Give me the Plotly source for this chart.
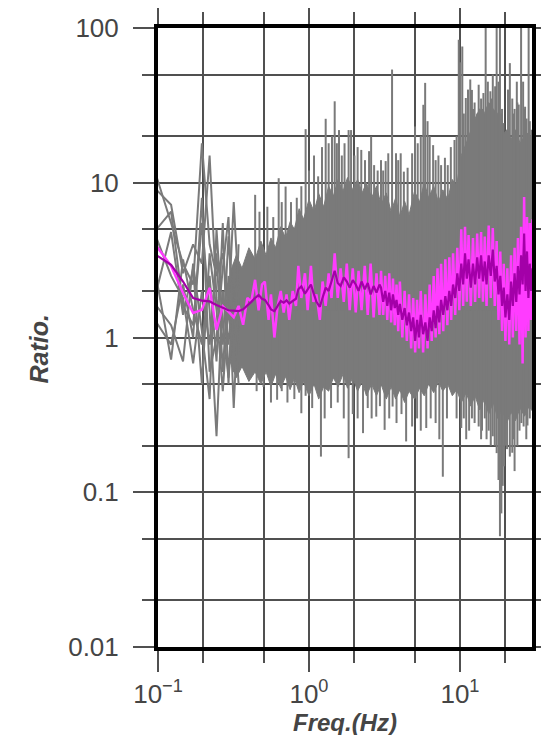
import plotly.graph_objects as go

# ---------------- data ----------------
# low-frequency FFT bins where individual station curves are distinguishable
F_BINS = [0.0977, 0.1221, 0.1465, 0.1709, 0.1953, 0.2197, 0.2441, 0.2686, 0.2930, 0.3174, 0.3418]
GRAY_1 = [11.0, 5.5, 3.0, 2.2, 18.0, 4.0, 2.5, 3.5, 1.5, 7.5, 2.0]
GRAY_2 = [9.0, 7.2, 2.6, 4.0, 3.0, 15.0, 1.8, 0.9, 4.5, 1.3, 3.0]
GRAY_3 = [5.0, 6.5, 1.6, 1.2, 5.5, 1.5, 0.23, 2.0, 0.9, 2.5, 1.1]
GRAY_4 = [4.4, 2.5, 1.8, 0.68, 2.0, 0.9, 3.5, 0.6, 2.5, 0.35, 1.8]
GRAY_5 = [2.4, 0.72, 3.2, 1.5, 0.9, 2.5, 0.7, 5.5, 0.5, 3.0, 0.8]
GRAY_6 = [2.0, 4.8, 1.4, 2.8, 0.5, 3.5, 1.5, 0.45, 1.6, 0.6, 4.0]
GRAY_7 = [1.6, 1.2, 0.7, 3.0, 1.1, 0.4, 5.0, 1.2, 0.55, 1.7, 0.5]
GRAY_8 = [1.25, 0.9, 2.2, 1.0, 8.0, 0.6, 1.0, 2.8, 6.0, 0.8, 1.4]
GRAY_LINES = [GRAY_1, GRAY_2, GRAY_3, GRAY_4, GRAY_5, GRAY_6, GRAY_7, GRAY_8]

# dense cloud of station curves: solid core envelope
CORE_F = [0.3, 0.33, 0.36, 0.4, 0.44, 0.48, 0.52, 0.56, 0.6, 0.65, 0.7, 0.75, 0.8, 0.86, 0.92,
          1.0, 1.08, 1.16, 1.25, 1.35, 1.45, 1.56, 1.68, 1.8, 1.95, 2.1, 2.25, 2.4, 2.6, 2.8,
          3.0, 3.25, 3.5, 3.75, 4.0, 4.3, 4.6, 5.0, 5.4, 5.8, 6.2, 6.7, 7.2, 7.7, 8.3, 8.9,
          9.5, 10.2, 11.0, 11.8, 12.6, 13.5, 14.5, 15.5, 16.6, 17.8, 19.0, 20.4, 21.8, 23.3,
          25.0, 26.8, 28.7, 30.5]
CORE_HI = [2.6, 3.4, 2.8, 3.8, 3.2, 4.2, 3.4, 4.4, 3.8, 5.2, 4.4, 5.6, 5.0, 6.8, 5.8,
           7.8, 6.5, 8.5, 7.0, 9.5, 8.2, 10.5, 8.8, 10.8, 9.0, 10.5, 8.6, 10.0, 8.0, 9.5,
           7.2, 8.6, 6.5, 8.0, 6.0, 7.6, 6.2, 8.8, 7.5, 10.0, 8.0, 9.5, 7.5, 9.0, 7.8, 10.5,
           9.5, 15.0, 18.0, 22.0, 26.0, 30.0, 28.0, 33.0, 30.0, 28.0, 20.0, 22.0, 19.0, 22.0,
           18.0, 20.0, 17.0, 18.0]
CORE_LO = [0.7, 0.55, 0.65, 0.52, 0.6, 0.5, 0.6, 0.48, 0.58, 0.47, 0.56, 0.46, 0.55, 0.44, 0.52,
           0.42, 0.5, 0.4, 0.48, 0.45, 0.55, 0.48, 0.58, 0.47, 0.55, 0.45, 0.52, 0.42, 0.5, 0.42,
           0.5, 0.4, 0.48, 0.4, 0.46, 0.38, 0.45, 0.4, 0.47, 0.42, 0.5, 0.44, 0.52, 0.45, 0.5, 0.42,
           0.46, 0.38, 0.44, 0.36, 0.42, 0.34, 0.4, 0.32, 0.38, 0.3, 0.34, 0.28, 0.33, 0.29,
           0.35, 0.31, 0.36, 0.33]

# upward peaks of individual curves
SPIKE_UP_F = [0.44, 0.47, 0.53, 0.58, 0.63, 0.66, 0.70, 0.76, 0.83, 0.89, 0.95, 1.0, 1.08, 1.15,
              1.22, 1.29, 1.35, 1.42, 1.48, 1.53, 1.58, 1.65, 1.72, 1.83, 1.9, 2.0, 2.1, 2.22,
              2.35, 2.5, 2.58, 2.7, 2.85, 3.0, 3.1, 3.22, 3.35, 3.55, 3.77, 3.9, 4.05, 4.25, 4.5,
              4.82, 5.04, 5.25, 5.5, 5.72, 5.88, 6.1, 6.3, 6.64, 6.9, 7.2, 7.5, 7.95, 8.3, 8.7,
              9.2, 9.5, 9.82, 10.05, 10.36, 10.93, 11.3, 11.7, 12.0, 12.5, 13.3, 13.8, 14.3, 14.8,
              15.3, 15.9, 16.5, 17.1, 17.5, 18.0, 18.4, 19.0, 19.4, 20.8, 21.4, 22.2, 23.0, 23.8,
              24.5, 25.4, 26.2, 27.0, 28.1, 28.5, 29.0, 29.8,
              10.6, 12.2, 13.0, 14.0, 15.6, 16.2, 18.8, 21.0, 22.6, 24.0, 26.6, 27.6, 29.4]
SPIKE_UP_V = [8.35, 6.5, 7.0, 6.0, 10.7, 7.5, 9.45, 7.5, 8.0, 9.5, 22.2, 12.0, 15.0, 11.0,
              17.0, 25.9, 18.0, 20.0, 33.6, 18.0, 21.9, 15.0, 18.0, 21.9, 21.9, 15.0, 17.0, 16.3,
              14.0, 16.0, 19.9, 13.0, 12.0, 14.0, 12.0, 13.8, 15.5, 53.9, 15.5, 14.0, 15.5, 11.8, 12.5,
              15.5, 23.1, 18.0, 20.0, 31.9, 44.2, 25.0, 20.0, 17.5, 14.0, 15.0, 13.0, 14.5, 13.0, 17.0,
              18.9, 20.0, 84.0, 60.0, 76.0, 35.3, 40.0, 46.5, 39.8, 33.0, 43.0, 35.0, 38.0, 100.0,
              45.0, 39.0, 50.0, 42.0, 100.0, 45.0, 100.0, 30.0, 24.3, 40.0, 59.3, 35.0, 30.0, 45.0,
              32.0, 100.0, 45.0, 31.0, 21.0, 100.0, 25.0, 22.0,
              28.0, 30.0, 28.0, 30.0, 32.0, 35.0, 28.0, 30.0, 28.0, 33.0, 30.0, 26.0, 20.0]

# downward troughs of individual curves
SPIKE_DN_F = [0.45, 0.5, 0.56, 0.615, 0.66, 0.72, 0.8, 0.89, 0.95, 1.05, 1.2, 1.27, 1.4, 1.55,
              1.7, 1.83, 1.95, 2.1, 2.28, 2.45, 2.6, 2.79, 2.95, 3.17, 3.4, 3.58, 3.8, 4.1, 4.4,
              4.82, 5.2, 5.5, 5.98, 6.4, 6.9, 7.3, 7.7, 8.2, 9.5, 10.2, 11.0, 12.0, 13.3, 14.0,
              15.0, 16.0, 17.0, 17.5, 18.0, 18.4, 18.8, 19.2, 19.6, 20.5, 21.4, 22.2, 23.0, 24.0,
              24.8, 26.4, 27.5, 29.0,
              10.6, 11.5, 12.5, 13.8, 14.6, 15.5, 16.5, 20.0, 22.6, 25.5, 28.0]
SPIKE_DN_V = [0.45, 0.48, 0.38, 0.396, 0.45, 0.38, 0.4, 0.324, 0.42, 0.35, 0.17, 0.3, 0.35, 0.38,
              0.3, 0.166, 0.32, 0.3, 0.241, 0.35, 0.3, 0.308, 0.36, 0.253, 0.3, 0.358, 0.28, 0.32, 0.213,
              0.266, 0.3, 0.25, 0.26, 0.3, 0.28, 0.22, 0.126, 0.3, 0.3, 0.26, 0.22, 0.3, 0.266, 0.25,
              0.22, 0.2, 0.2, 0.179, 0.12, 0.052, 0.073, 0.11, 0.147, 0.19, 0.17, 0.18, 0.137, 0.2,
              0.25, 0.266, 0.22, 0.3,
              0.3, 0.25, 0.28, 0.22, 0.3, 0.25, 0.23, 0.2, 0.22, 0.28, 0.27]

# average curves
MEAN_F_LOW = [0.0977, 0.1221, 0.1465, 0.1709, 0.1953, 0.2197, 0.2441, 0.2686, 0.2930, 0.3174,
              0.3418, 0.3662, 0.3906, 0.4150, 0.4395, 0.4639, 0.4883]
MEAN_F_MID = [0.51, 0.54, 0.56, 0.59, 0.62, 0.65, 0.68, 0.71, 0.74, 0.78, 0.82, 0.85, 0.89, 0.94,
              0.98, 1.03, 1.07, 1.12, 1.18, 1.23, 1.29, 1.35, 1.41, 1.48, 1.55, 1.62, 1.70, 1.78,
              1.86, 1.95, 2.04, 2.13, 2.23, 2.34, 2.45, 2.56, 2.68, 2.80, 2.93]
MEAN_F_HIGH = [3.0, 3.1, 3.2, 3.3, 3.4, 3.5, 3.6, 3.7, 3.8, 3.9, 4.0, 4.15, 4.3, 4.45, 4.6, 4.75,
               4.9, 5.05, 5.2, 5.35, 5.5, 5.7, 5.9, 6.1, 6.3, 6.5, 6.7, 6.9, 7.1, 7.3, 7.5, 7.75,
               8.0, 8.25, 8.5, 8.75, 9.0, 9.3, 9.6, 9.9, 10.2, 10.5, 10.8, 11.1, 11.4, 11.8, 12.2,
               12.6, 13.0, 13.4, 13.8, 14.2, 14.6, 15.0, 15.5, 16.0, 16.5, 17.0, 17.5, 18.0, 18.5,
               19.0, 19.5, 20.0, 20.6, 21.2, 21.8, 22.4, 23.0, 23.6, 24.2, 24.8, 25.4, 26.0, 26.6,
               27.2, 27.8, 28.4, 29.0, 29.6, 30.2]

PINK_LOW = [3.9, 2.9, 1.94, 1.44, 1.51, 2.09, 1.12, 1.59, 1.47, 1.35, 1.6, 1.21, 1.8, 1.71, 2.36,
            1.5, 2.2]
PINK_MID = [2.3, 1.3, 1.9, 1.0, 1.6, 2.0, 1.45, 1.9, 1.3, 2.0, 1.6, 2.9, 1.8, 2.6, 1.5, 2.9, 1.7,
            1.9, 1.3, 2.3, 1.6, 2.6, 1.8, 3.5, 1.8, 2.8, 1.7, 3.0, 1.5, 2.8, 1.45, 2.7, 1.5, 2.9,
            1.4, 3.0, 1.35, 2.6, 1.4]
PINK_HIGH = [2.7, 1.4, 2.5, 1.3, 2.6, 1.25, 2.4, 1.2, 2.2, 1.1, 2.3, 1.0, 2.0, 0.95, 1.9, 0.85,
             1.8, 0.8, 1.75, 0.85, 2.0, 0.8, 1.9, 0.85, 2.2, 0.95, 2.5, 1.0, 2.8, 1.05, 3.0, 1.1,
             3.2, 1.2, 3.3, 1.3, 3.5, 1.4, 3.8, 1.5, 5.0, 1.6, 5.2, 1.7, 4.6, 1.6, 4.4, 1.7, 4.7,
             1.8, 4.8, 1.7, 4.5, 1.6, 5.3, 1.8, 5.1, 1.6, 4.2, 1.3, 3.6, 1.1, 3.0, 0.95, 2.8, 0.9,
             3.4, 1.0, 3.8, 1.1, 4.4, 0.9, 5.2, 0.68, 8.1, 1.0, 6.0, 1.1, 5.5, 1.3, 5.8]

MAG_LOW = [3.4, 2.95, 2.3, 1.8, 1.73, 1.71, 1.62, 1.55, 1.5, 1.49, 1.48, 1.52, 1.6, 1.7, 1.8,
           1.88, 1.78]
MAG_MID = [1.75, 1.62, 1.52, 1.48, 1.6, 1.72, 1.68, 1.74, 1.66, 1.72, 1.78, 2.05, 2.14, 1.92,
           2.05, 2.2, 1.95, 1.7, 1.58, 1.8, 2.1, 2.0, 2.3, 2.7, 2.25, 2.15, 2.45, 2.3, 2.1, 2.35,
           2.2, 2.0, 2.3, 2.05, 2.25, 1.9, 2.15, 1.95, 2.2]
MAG_HIGH = [2.1, 1.7, 2.0, 1.6, 1.95, 1.5, 1.9, 1.55, 1.75, 1.4, 1.65, 1.3, 1.55, 1.2, 1.45, 1.1,
            1.35, 0.95, 1.3, 1.0, 1.4, 1.05, 1.25, 0.95, 1.35, 1.1, 1.5, 1.15, 1.6, 1.25, 1.75, 1.4,
            1.85, 1.5, 2.0, 1.6, 2.2, 1.8, 2.6, 2.0, 3.0, 2.2, 3.5, 2.4, 3.2, 2.1, 3.0, 2.2, 3.3,
            2.4, 3.4, 2.3, 3.1, 2.2, 3.4, 2.5, 3.7, 2.3, 2.9, 1.9, 2.5, 1.6, 2.1, 1.35, 1.9, 1.3,
            2.3, 1.6, 2.6, 1.7, 2.9, 1.9, 3.4, 2.2, 4.7, 2.0, 3.6, 1.8, 3.0, 2.0, 2.8]

X_TICKS = [0.1, 1, 10]
X_TICKTEXT = ["10<sup>\u22121</sup>", "10<sup>0</sup>", "10<sup>1</sup>"]
X_MINOR = [0.2, 0.5, 2, 5, 20]
Y_TICKS = [0.01, 0.1, 1, 10, 100]
Y_TICKTEXT = ["0.01", "0.1", "1", "10", "100"]
Y_MINOR = [0.02, 0.05, 0.2, 0.5, 2, 5, 20, 50]

X_TITLE = "Freq.(Hz)"
Y_TITLE = "Ratio."

# ---------------- figure ----------------
GRAY = "#7a7a7a"
GRID = "#505050"
PINK = "#ff3cff"
MAG = "#a300a8"
FONT = "Liberation Sans, Arial, Helvetica, sans-serif"

fig = go.Figure()

# dense core of the station curves
fig.add_trace(go.Scatter(
    x=CORE_F + CORE_F[::-1], y=CORE_HI + CORE_LO[::-1],
    mode="lines", fill="toself", fillcolor=GRAY, line=dict(width=1, color=GRAY),
    hoverinfo="skip", showlegend=False))

# individual station curves at low frequency
for vals in GRAY_LINES:
    fig.add_trace(go.Scatter(x=F_BINS, y=vals, mode="lines",
                             line=dict(color=GRAY, width=2), showlegend=False,
                             hoverinfo="skip"))

# peaks and troughs as vertical strokes from inside the core
BASE = 1.5
sx, sy = [], []
for f, v in zip(SPIKE_UP_F, SPIKE_UP_V):
    sx += [f, f, None]
    sy += [BASE, v, None]
for f, v in zip(SPIKE_DN_F, SPIKE_DN_V):
    sx += [f, f, None]
    sy += [BASE, v, None]
fig.add_trace(go.Scatter(x=sx, y=sy, mode="lines", line=dict(color=GRAY, width=2),
                         showlegend=False, hoverinfo="skip", connectgaps=False))

MEAN_F = MEAN_F_LOW + MEAN_F_MID + MEAN_F_HIGH
PINK_V = PINK_LOW + PINK_MID + PINK_HIGH
MAG_V = MAG_LOW + MAG_MID + MAG_HIGH

fig.add_trace(go.Scatter(x=MEAN_F, y=PINK_V, mode="lines",
                         line=dict(color=PINK, width=2.5), showlegend=False))
fig.add_trace(go.Scatter(x=MEAN_F, y=MAG_V, mode="lines",
                         line=dict(color=MAG, width=2.2), showlegend=False))

axis_common = dict(
    type="log", automargin=False,
    showline=True, linecolor="black", linewidth=4, mirror="ticks",
    ticks="outside", ticklen=21, tickwidth=2, tickcolor=GRID,
    showgrid=True, gridcolor=GRID, gridwidth=2,
    zeroline=False,
    tickfont=dict(family=FONT, size=26, color="#454545"),
)

fig.update_xaxes(
    **axis_common,
    range=[-1, 1.4771],
    tickmode="array", tickvals=X_TICKS, ticktext=X_TICKTEXT,
    minor=dict(tickmode="array", tickvals=X_MINOR, ticks="outside", ticklen=12,
               tickwidth=2, tickcolor=GRID, showgrid=True, gridcolor=GRID, gridwidth=2),
)
fig.update_yaxes(
    **axis_common,
    range=[-2, 2],
    tickmode="array", tickvals=Y_TICKS, ticktext=Y_TICKTEXT,
    ticklabelstandoff=9,
    minor=dict(tickmode="array", tickvals=Y_MINOR, ticks="outside", ticklen=12,
               tickwidth=2, tickcolor=GRID, showgrid=True, gridcolor=GRID, gridwidth=2),
)

fig.add_annotation(text="<b><i>" + X_TITLE + "</i></b>", xref="paper", yref="paper",
                   x=0.5, y=0, yshift=-75, yanchor="middle", showarrow=False,
                   font=dict(family=FONT, size=24, color="#454545"))
fig.add_annotation(text="<b><i>" + Y_TITLE + "</i></b>", xref="paper", yref="paper",
                   x=0, xshift=-120, y=0.5, yshift=-12, xanchor="center", yanchor="middle",
                   textangle=-90, showarrow=False,
                   font=dict(family=FONT, size=25, color="#454545"))

# the page body adds 8 px around the figure; keep the whole page inside the window
fig.update_layout(
    width=533, height=727,
    margin=dict(l=150, r=9, t=20, b=88),
    paper_bgcolor="white", plot_bgcolor="white",
    showlegend=False,
)

fig.write_html("out.html")
